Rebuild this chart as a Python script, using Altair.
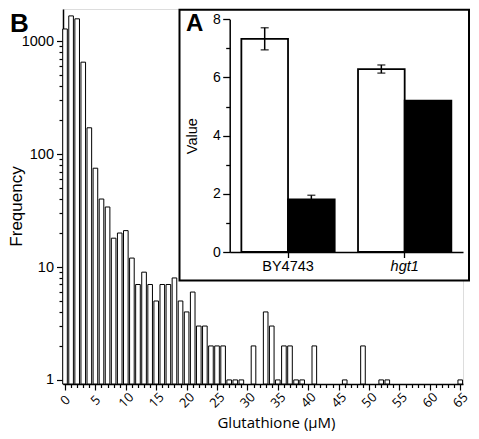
import altair as alt
import pandas as pd

# ---------------- Panel B: histogram (log frequency) ----------------
bins = list(range(0, 66))
counts = [1283, 1675, 1578, 652, 171, 75, 40, 34, 18, 20,
          21, 12, 7, 9, 7, 5, 7, 7, 8, 5,
          4, 6, 3, 3, 2, 2, 2, 1, 1, 1,
          0, 2, 0, 4, 3, 1, 2, 2, 1, 1,
          0, 2, 0, 0, 0, 0, 1, 0, 0, 2,
          0, 0, 1, 1, 0, 0, 0, 0, 0, 0,
          0, 0, 0, 0, 0, 1]
x_tick_values = list(range(0, 66))
y_tick_values = [1, 2, 3, 4, 5, 6, 7, 8, 9,
                 10, 20, 30, 40, 50, 60, 70, 80, 90,
                 100, 200, 300, 400, 500, 600, 700, 800, 900, 1000]

# ---------------- Panel A: inset bar chart ----------------
strains = ["BY4743", "BY4743", "hgt1", "hgt1"]
series = ["Series 1", "Series 2", "Series 1", "Series 2"]
values = [7.33, 1.81, 6.29, 5.20]
errors = [0.38, 0.14, 0.14, 0.0]
series_names = ["Series 1", "Series 2"]
series_colors = ["white", "black"]
inset_y_ticks = [0, 1, 2, 3, 4, 5, 6, 7, 8]

W, H = 400, 375
YMIN, YMAX = 0.92, 1928

FONT = "Liberation Sans"
FONT2 = "Open Sans"

MAJOR_Y = "(datum.value === 1 || datum.value === 10 || datum.value === 100 || datum.value === 1000)"

hist_df = pd.DataFrame({"bin": bins, "count": counts})

hist = alt.Chart(hist_df).transform_filter(
    "datum.count > 0"
).transform_calculate(
    x0="datum.bin - 0.38", x1="datum.bin + 0.38", base=str(YMIN)
).mark_rect(fill="white", stroke="black", strokeWidth=1).encode(
    x=alt.X("x0:Q",
            scale=alt.Scale(domain=[-0.33, 65.45], nice=False, zero=False),
            axis=alt.Axis(
                values=x_tick_values,
                labelExpr="datum.value % 5 === 0 ? '' + datum.value : ''",
                labelAngle=315, labelAlign="center", labelBaseline="middle",
                labelPadding=10, labelFont=FONT2, labelFontSize=13,
                labelOverlap=False, labelFlush=False, labelColor="black",
                tickSize={"condition": {"test": "datum.value % 5 === 0", "value": 6},
                          "value": 3.5},
                tickWidth=1.2, tickColor="black",
                domainColor="black", domainWidth=1.5, grid=False,
                title="Glutathione (µM)", titleFont=FONT2, titleFontSize=15,
                titleFontWeight="normal", titleColor="black",
                titleX=213, titleY=43, titleBaseline="alphabetic",
                titleAlign="center")),
    x2="x1:Q",
    y=alt.Y("count:Q",
            scale=alt.Scale(type="log", domain=[YMIN, YMAX], nice=False),
            axis=alt.Axis(
                values=y_tick_values,
                labelExpr=MAJOR_Y + " ? '' + datum.value : ''",
                labelPadding=3, labelFont=FONT, labelFontSize=14.5,
                labelOverlap=False, labelFlush=False, labelColor="black",
                tickSize={"condition": {"test": MAJOR_Y, "value": 6.5},
                          "value": 4},
                tickWidth=1.2, tickColor="black",
                domainColor="black", domainWidth=1.5, grid=False,
                title="Frequency", titleFont=FONT, titleFontSize=17,
                titleFontWeight="normal", titleColor="black",
                titleX=-42, titleY=197, titleAngle=270,
                titleBaseline="alphabetic", titleAlign="center")),
    y2="base:Q",
)

# inset frame
box_df = pd.DataFrame({"k": [0]})
box = alt.Chart(box_df).mark_rect(fill="white", stroke="black", strokeWidth=2).encode(
    x=alt.value(116.5), x2=alt.value(406), y=alt.value(0.8), y2=alt.value(271.5)
)

inset_df = pd.DataFrame({"strain": strains, "series": series,
                         "value": values, "err": errors})

x_inset = alt.X(
    "strain:N", sort=["BY4743", "hgt1"],
    scale=alt.Scale(range=[166.7, 400], paddingInner=0.2, paddingOuter=0.1),
    axis=alt.Axis(orient="bottom", offset=-132, title=None, labelAngle=0,
                  labelFont=FONT, labelFontSize=14.5, labelPadding=2,
                  labelColor="black",
                  labelFontStyle={"condition": {"test": "datum.value === 'hgt1'",
                                                "value": "italic"},
                                  "value": "normal"},
                  tickSize=5.5, tickWidth=1.3, tickColor="black",
                  domainColor="black", domainWidth=1.5, zindex=1, grid=False))
xo_inset = alt.XOffset("series:N", sort=series_names)
y_scale_inset = alt.Scale(domain=[0, 8], range=[243, 10.3], nice=False)
y_axis_inset = alt.Axis(
    orient="left", offset=-166.7, values=inset_y_ticks,
    labelExpr="datum.value % 2 === 0 ? '' + datum.value : ''",
    labelFont=FONT, labelFontSize=14, labelPadding=2.5,
    labelColor="black", labelOverlap=False, labelFlush=False,
    tickSize={"condition": {"test": "datum.value % 2 === 0", "value": 7},
              "value": 4},
    tickWidth=1.3, tickColor="black",
    domainColor="black", domainWidth=1.5, grid=False,
    title="Value", titleFont=FONT, titleFontSize=14.5,
    titleFontWeight="normal", titleColor="black",
    titlePadding=13, zindex=1)

bars = alt.Chart(inset_df).mark_bar(stroke="black", strokeWidth=1.8).encode(
    x=x_inset,
    xOffset=xo_inset,
    y=alt.Y("value:Q", scale=y_scale_inset, axis=y_axis_inset),
    fill=alt.Fill("series:N", scale=alt.Scale(domain=series_names, range=series_colors),
                  legend=None),
)

err_base = alt.Chart(inset_df).transform_filter("datum.err > 0").transform_calculate(
    lo="datum.value - datum.err", hi="datum.value + datum.err")

err_rule = err_base.mark_rule(color="black", strokeWidth=1.5).encode(
    x=x_inset, xOffset=xo_inset,
    y=alt.Y("lo:Q", scale=y_scale_inset, axis=y_axis_inset),
    y2="hi:Q",
)

err_caps = err_base.transform_fold(["lo", "hi"], as_=["end", "v"]).mark_tick(
    color="black", thickness=1.5, size=8).encode(
    x=x_inset, xOffset=xo_inset,
    y=alt.Y("v:Q", scale=y_scale_inset, axis=y_axis_inset),
)

inset = alt.layer(bars, err_rule, err_caps)

lbl_df = pd.DataFrame({"k": [0]})
text_b = alt.Chart(lbl_df).mark_text(
    text="B", font=FONT, fontSize=26, fontWeight="bold", align="left",
    baseline="alphabetic", color="black").encode(x=alt.value(-53), y=alt.value(23))
text_a = alt.Chart(lbl_df).mark_text(
    text="A", font=FONT, fontSize=24, fontWeight="bold", align="left",
    baseline="alphabetic", color="black").encode(x=alt.value(123), y=alt.value(22))

chart = alt.layer(hist, box, inset, text_b, text_a).resolve_scale(
    x="independent", y="independent"
).properties(
    width=W, height=H,
    autosize=alt.AutoSizeParams(type="none"),
    padding={"left": 55, "top": 1, "right": 8, "bottom": 47},
).configure_view(stroke=None).configure(font=FONT, background="white")

chart.save("out.html", embed_options={"renderer": "svg", "actions": False})
